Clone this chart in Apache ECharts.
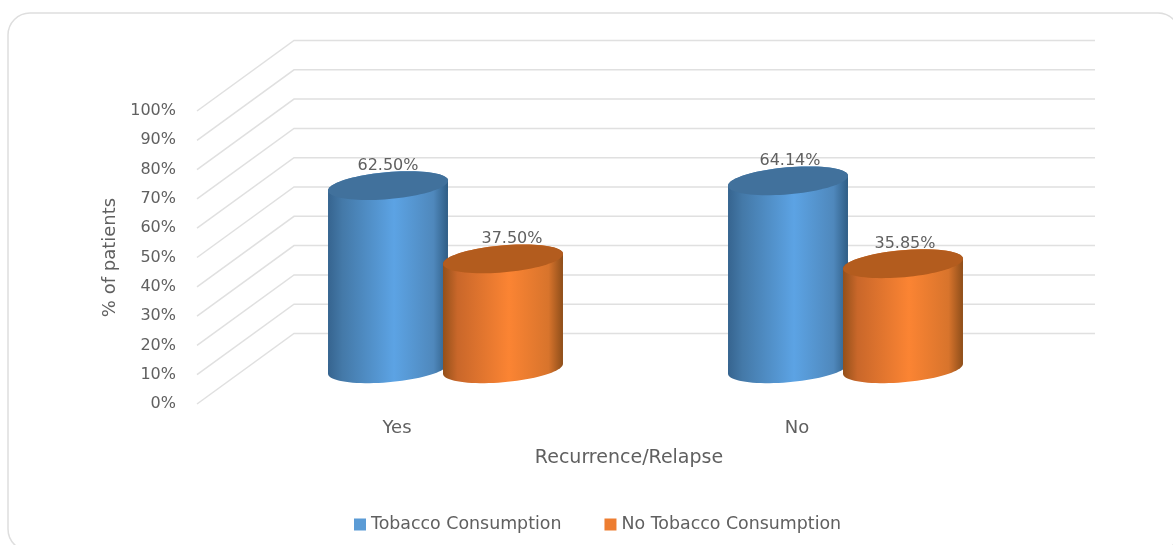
<!DOCTYPE html>
<html><head><meta charset="utf-8">
<style>html,body{margin:0;padding:0;background:#fff}#c{width:1173px;height:545px;filter:blur(0.45px)}</style>
<script src="https://cdn.jsdelivr.net/npm/echarts@6/dist/echarts.min.js"></script>
</head><body><div id="c"></div>
<script>
const categories = ['Yes', 'No'];
const tobaccoValues = [62.5, 64.14];
const noTobaccoValues = [37.5, 35.85];
const yTicks = [0,10,20,30,40,50,60,70,80,90,100];
const seriesNames = ['Tobacco Consumption', 'No Tobacco Consumption'];

// 3D projection layout
const DEPTH_X = 97, DEPTH_Y = -70.5;
const BAR_GAP = 57.5, A = 60.2, B = 13.5, TILT = 5 * Math.PI / 180;
const FONT = '"DejaVu Sans"';
const TXT = '#606060';

function ellipsePoints(cx, cy, from, to, n) {
  const pts = [];
  for (let i = 0; i <= n; i++) {
    const t = from + (to - from) * i / n;
    pts.push([cx + A*Math.cos(t)*Math.cos(TILT) + B*Math.sin(t)*Math.sin(TILT),
              cy - A*Math.cos(t)*Math.sin(TILT) + B*Math.sin(t)*Math.cos(TILT)]);
  }
  return pts;
}
function grad(stops) {
  return new echarts.graphic.LinearGradient(0,0,1,0,stops.map(s=>({offset:s[0],color:s[1]})));
}
function cylinderSeries(name, values, side, topColor, legendColor, stops, nudges) {
  return {
    type: 'custom', name, silent: true, z: 3,
    itemStyle: { color: legendColor },
    encode: { x: 0, y: 1 },
    data: values.map((v, i) => [i, v]),
    renderItem(params, api) {
      const top = api.coord([api.value(0), api.value(1)]);
      const base = api.coord([api.value(0), 0]);
      const cx = top[0] + DEPTH_X/2 + side * BAR_GAP;
      const ty = top[1] + DEPTH_Y/2, by = base[1] + DEPTH_Y/2;
      const t0 = Math.atan(B / A * Math.tan(TILT));
      const lower = ellipsePoints(cx, by, t0, t0 + Math.PI, 40);
      const topRing = ellipsePoints(cx, ty, t0 + Math.PI, t0 + 2*Math.PI, 40);
      const bodyPts = lower.concat(topRing);
      const cap = ellipsePoints(cx, ty, 0, 2*Math.PI, 80);
      return { type: 'group', children: [
        { type:'polygon', shape:{points:bodyPts}, style:{fill:grad(stops)} },
        { type:'polygon', shape:{points:cap}, style:{fill:topColor} },
        { type:'text', z2: 5, style:{ text: api.value(1).toFixed(2)+'%', x: cx + nudges[params.dataIndex],
            y: ty - 20, align:'center', verticalAlign:'middle',
            fill: TXT, font: '16px ' + FONT } }
      ]};
    }
  };
}

const chart = echarts.init(document.getElementById('c'), null, {renderer:'canvas'});
chart.setOption({
  animation: false,
  backgroundColor: '#fff',
  graphic: [{ type:'rect', z:-1, shape:{x:8,y:13,width:1172,height:538,r:22},
    style:{fill:'#fff',stroke:'#dedede',lineWidth:1.5} }],
  grid: { left:197, width:800, top:111, height:293 },
  legend: { data: seriesNames, left:349, top:511, itemWidth:12, itemHeight:12, itemGap:43,
    icon:'rect', textStyle:{ color:TXT, fontFamily:FONT, fontSize:17.4 } },
  xAxis: { type:'category', data:categories, name:'Recurrence/Relapse', nameLocation:'middle',
    nameGap:45, nameTextStyle:{color:TXT,fontFamily:FONT,fontSize:19,padding:[0,0,0,64]},
    axisLine:{show:false}, axisTick:{show:false},
    axisLabel:{color:TXT,fontFamily:FONT,fontSize:18,margin:15} },
  yAxis: { type:'value', min:0, max:100, interval:10, name:'% of patients', nameLocation:'middle',
    nameRotate:90, nameGap:77, nameTextStyle:{color:TXT,fontFamily:FONT,fontSize:18},
    axisLine:{show:false}, axisTick:{show:false}, splitLine:{show:false},
    axisLabel:{color:TXT,fontFamily:FONT,fontSize:16,margin:21,formatter:'{value}%'} },
  series: [
    { type:'custom', name:'wall', silent:true, z:1, encode:{x:0,y:1},
      data: yTicks.map(v=>[0,v]),
      renderItem(params, api) {
        const y = api.coord([0, api.value(1)])[1];
        const cs = params.coordSys;
        return { type:'polyline', shape:{points:[[cs.x,y],[cs.x+DEPTH_X,y+DEPTH_Y],[cs.x+cs.width+DEPTH_X+1,y+DEPTH_Y]]},
          style:{stroke:'#e0e0e0',lineWidth:1.5,fill:null} };
      } },
    cylinderSeries(seriesNames[0], tobaccoValues, -1, '#41719C', '#5B9BD5',
      [[0,'#36648F'],[0.12,'#4479A8'],[0.55,'#5CA3E4'],[0.88,'#4F88BC'],[1,'#2F5D85']], [0,2]),
    cylinderSeries(seriesNames[1], noTobaccoValues, 1, '#B35C1E', '#ED7D31',
      [[0,'#94501A'],[0.12,'#C9672A'],[0.55,'#FB8433'],[0.88,'#D8742C'],[1,'#8E4E1A']], [9,2])
  ]
});
</script></body></html>
